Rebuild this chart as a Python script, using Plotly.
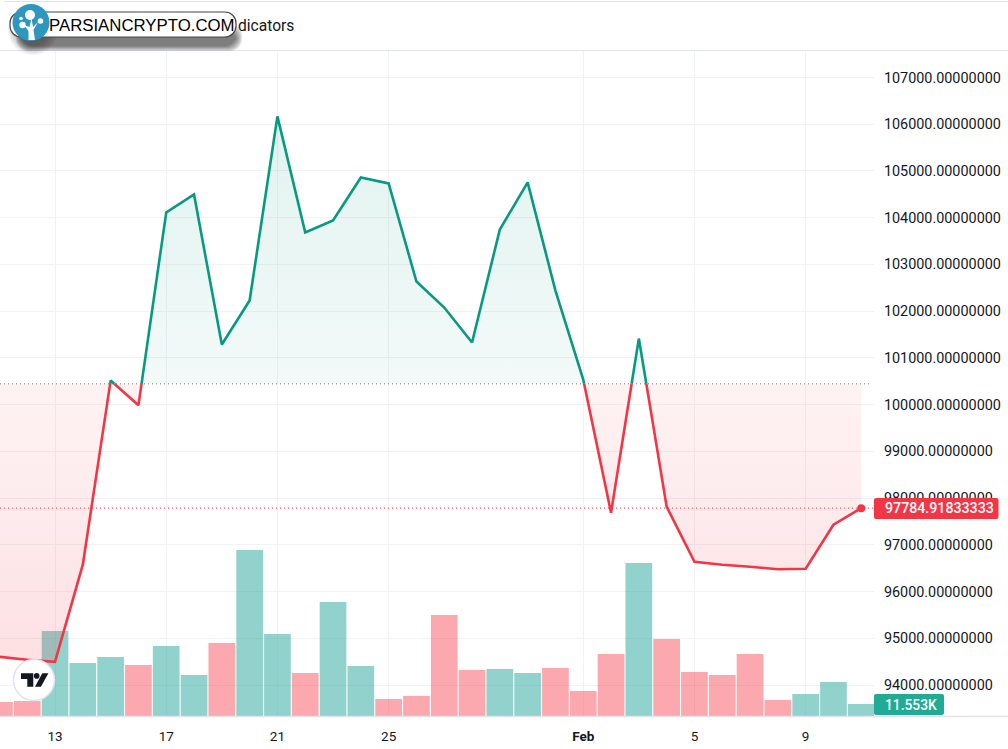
import numpy as np
import pandas as pd
import plotly.graph_objects as go

# ---- data ----
DATES = list(pd.date_range("2025-01-11", "2025-02-11").strftime("%Y-%m-%d"))
PRICE = [94604, 94540, 94497, 96574, 100514, 99985, 104111, 104497, 101285, 102227,
         106167, 103683, 103940, 104861, 104732, 102634, 102077, 101328, 103747, 104754,
         102441, 100535, 97687, 101413, 97816, 96638, 96574, 96531, 96478, 96488,
         97430, 97784.91833333]
VOLUME = [13.5, 14.4, 81.8, 51.0, 56.8, 49.1, 67.4, 39.5, 70.3, 159.8,
          78.9, 41.4, 109.7, 48.1, 16.4, 19.3, 97.2, 44.3, 45.2, 41.4,
          46.2, 24.1, 59.7, 147.3, 74.1, 42.4, 39.5, 59.7, 15.4, 21.2,
          32.7, 11.553]
VOL_UP = [0, 0, 1, 1, 1, 0, 1, 1, 0, 1, 1, 0, 1, 1, 0, 0, 0, 0, 1, 1,
          0, 0, 0, 1, 0, 0, 0, 0, 0, 1, 1, 1]
BASELINE = 100445
LAST_PRICE = 97784.91833333
PRICE_TICKS = list(range(94000, 108000, 1000))
DATE_TICKS = ["2025-01-13", "2025-01-17", "2025-01-21", "2025-01-25",
              "2025-02-01", "2025-02-05", "2025-02-09"]
DATE_LABELS = ["13", "17", "21", "25", "<b>Feb</b>", "5", "9"]

RED = "#f23645"
GREEN = "#089981"
VOL_GREEN = "#92d2cc"
VOL_RED = "#fba8af"
TEXT = "#131722"
GRID = "#f1f2f4"
EDGE = "#e0e3eb"
FONT = "Roboto"

W, H = 1008, 749
LEFT, RIGHT, TOP, BOTTOM = 0, 874, 50, 716


def px(x):
    return (x - LEFT) / (RIGHT - LEFT)


def py(y):
    return (BOTTOM - y) / (BOTTOM - TOP)


def pill(x0, y0, x1, y1, r):
    """ rounded box path in paper coordinates """
    k = r * 0.45
    pts = [
        f"M {px(x0 + r)} {py(y0)}", f"L {px(x1 - r)} {py(y0)}",
        f"C {px(x1 - k)} {py(y0)} {px(x1)} {py(y0 + k)} {px(x1)} {py(y0 + r)}",
        f"L {px(x1)} {py(y1 - r)}",
        f"C {px(x1)} {py(y1 - k)} {px(x1 - k)} {py(y1)} {px(x1 - r)} {py(y1)}",
        f"L {px(x0 + r)} {py(y1)}",
        f"C {px(x0 + k)} {py(y1)} {px(x0)} {py(y1 - k)} {px(x0)} {py(y1 - r)}",
        f"L {px(x0)} {py(y0 + r)}",
        f"C {px(x0)} {py(y0 + k)} {px(x0 + k)} {py(y0)} {px(x0 + r)} {py(y0)}",
        "Z",
    ]
    return " ".join(pts)


def poly(points):
    return "M " + " L ".join(f"{px(x)} {py(y)}" for x, y in points) + " Z"


def box(path, fill, line=None, width=0):
    return dict(type="path", path=path, xref="paper", yref="paper", layer="above",
                fillcolor=fill, line=dict(color=line or "rgba(0,0,0,0)", width=width))


def dot(cx, cy, r, fill, line=None, width=0):
    return dict(type="circle", xref="paper", yref="paper", layer="above",
                x0=px(cx - r), x1=px(cx + r), y0=py(cy + r), y1=py(cy - r),
                fillcolor=fill, line=dict(color=line or "rgba(0,0,0,0)", width=width))


def split_at_baseline(dates, values, base):
    """ add the points where the line crosses the baseline """
    t = pd.to_datetime(dates).astype("datetime64[ns]").astype("int64").to_numpy(dtype=float)
    v = np.array(values, dtype=float)
    out_t, out_v = [t[0]], [v[0]]
    for i in range(1, len(t)):
        if (v[i - 1] - base) * (v[i] - base) < 0:
            f = (base - v[i - 1]) / (v[i] - v[i - 1])
            out_t.append(t[i - 1] + f * (t[i] - t[i - 1]))
            out_v.append(base)
        out_t.append(t[i])
        out_v.append(v[i])
    xs = pd.to_datetime(np.array(out_t).astype("int64")).strftime("%Y-%m-%d %H:%M:%S").tolist()
    return xs, np.array(out_v)


xs, ys = split_at_baseline(DATES, PRICE, BASELINE)
base_y = [BASELINE] * len(xs)

fig = go.Figure()

# volume goes underneath, on its own hidden axis
fig.add_trace(go.Bar(x=DATES, y=VOLUME, yaxis="y",
                     marker=dict(color=["#26a69a" if u else "#f7525f" for u in VOL_UP],
                                 line=dict(width=0), opacity=0.5)))

# baseline fills
fig.add_trace(go.Scatter(x=xs, y=base_y, yaxis="y2", mode="lines", line=dict(width=0)))
fig.add_trace(go.Scatter(x=xs, y=np.maximum(ys, BASELINE), yaxis="y2", mode="lines", line=dict(width=0),
                         fill="tonexty",
                         fillgradient=dict(type="vertical", start=106200, stop=BASELINE,
                                           colorscale=[[0, "rgba(8,153,129,0.12)"], [1, "rgba(8,153,129,0.05)"]])))
fig.add_trace(go.Scatter(x=xs, y=base_y, yaxis="y2", mode="lines", line=dict(width=0)))
fig.add_trace(go.Scatter(x=xs, y=np.minimum(ys, BASELINE), yaxis="y2", mode="lines", line=dict(width=0),
                         fill="tonexty",
                         fillgradient=dict(type="vertical", start=BASELINE, stop=94500,
                                           colorscale=[[0, "rgba(242,54,69,0.06)"], [1, "rgba(242,54,69,0.15)"]])))

# price line, green above the baseline and red below
fig.add_trace(go.Scatter(x=xs, y=np.where(ys >= BASELINE, ys, np.nan), yaxis="y2", mode="lines",
                         line=dict(color=GREEN, width=2.6, simplify=False)))
fig.add_trace(go.Scatter(x=xs, y=np.where(ys <= BASELINE, ys, np.nan), yaxis="y2", mode="lines",
                         line=dict(color=RED, width=2.6, simplify=False)))
fig.add_trace(go.Scatter(x=DATES[-1:], y=PRICE[-1:], yaxis="y2", mode="markers",
                         marker=dict(color=RED, size=8)))

# header rules, dotted levels
shapes = [
    dict(type="line", xref="paper", yref="y2", x0=0, x1=px(870), y0=BASELINE, y1=BASELINE,
         layer="above", line=dict(color="#8a6f74", width=1, dash="1px,3px")),
    dict(type="line", xref="paper", yref="y2", x0=0, x1=1, y0=LAST_PRICE, y1=LAST_PRICE,
         layer="above", line=dict(color=RED, width=1, dash="1px,3px")),
    dict(type="line", xref="paper", yref="paper", x0=0, x1=px(W), y0=py(50.5), y1=py(50.5),
         line=dict(color=EDGE, width=1), layer="above"),
    dict(type="line", xref="paper", yref="paper", x0=px(4), x1=px(W), y0=py(1.5), y1=py(1.5),
         line=dict(color=EDGE, width=1), layer="above"),
    dict(type="line", xref="paper", yref="paper", x0=0, x1=px(W), y0=py(716.5), y1=py(716.5),
         line=dict(color=EDGE, width=1.5), layer="above"),
    # last value tags
    box(pill(874, 498, 998.5, 519, 2), RED),
    box(pill(874, 694, 944, 715, 2), "#22ab94"),
]

# TradingView badge
shapes += [
    dot(34, 680, 20.5, "#ffffff", EDGE, 1.5),
    box(poly([(21, 673.3), (33.3, 673.3), (33.3, 686.7), (27.3, 686.7), (27.3, 679), (21, 679)]), TEXT),
    dot(36.7, 675.9, 2.8, TEXT),
    box(poly([(42.3, 673.3), (48.4, 673.3), (40.9, 686.7), (35, 686.7)]), TEXT),
]

# watermark: soft shadow, pill, round icon
for g in range(7):
    shapes.append(box(pill(16 + g, 24 + g, 242 - g, 51 - g * 0.8, 12), "rgba(40,40,40,0.12)"))
    shapes.append(dot(33, 30, 25 - g * 1.6, "rgba(40,40,40,0.06)"))
shapes += [
    box(pill(10, 12, 236, 37, 11), "#ffffff", "#45474d", 1.2),
    dot(31, 22.5, 18.5, "#2e97bf"),
    box(poly([(28.5, 40), (35, 40), (33.5, 30), (38, 22), (33, 27), (31.5, 18),
              (29.5, 27), (24, 25), (28.5, 31)]), "#ffffff"),
    dot(30, 15, 5, "#ffffff"),
    dot(22.5, 25, 3.2, "#ffffff"),
    dot(40.5, 21, 2.8, "#ffffff"),
    dot(21, 18.5, 1.8, "#ffffff"),
]

annotations = [
    dict(text="dicators", xref="paper", yref="paper", x=px(236), y=py(26), xanchor="left", yanchor="middle",
         showarrow=False, font=dict(family=FONT, size=15.6, color=TEXT)),
    dict(text="PARSIANCRYPTO.COM", xref="paper", yref="paper", x=px(47), y=py(25.5), xanchor="left", yanchor="middle",
         showarrow=False, font=dict(family="Liberation Sans", size=16.8, color="#000000")),
    dict(text=f"{LAST_PRICE:.8f}", xref="paper", yref="y2", x=px(883), y=LAST_PRICE, xanchor="left", yanchor="middle",
         showarrow=False, font=dict(family=FONT, size=14.2, color="#ffffff", weight=500)),
    dict(text=f"{VOLUME[-1]:.3f}K", xref="paper", yref="paper", x=px(883), y=py(704.5), xanchor="left", yanchor="middle",
         showarrow=False, font=dict(family=FONT, size=13.8, color="#ffffff", weight=500)),
]

fig.update_layout(
    width=W, height=H, margin=dict(l=LEFT, r=W - RIGHT, t=TOP, b=H - BOTTOM),
    paper_bgcolor="#ffffff", plot_bgcolor="#ffffff",
    showlegend=False, hovermode=False, bargap=0.04,
    shapes=shapes, annotations=annotations,
    xaxis=dict(type="date", range=["2025-01-11 00:30", "2025-02-11 11:00"],
               tickvals=DATE_TICKS, ticktext=DATE_LABELS, tickangle=0,
               showgrid=True, gridcolor=GRID, gridwidth=1, zeroline=False, showline=False,
               ticks="outside", ticklen=8, tickcolor="rgba(0,0,0,0)",
               tickfont=dict(family=FONT, size=13.5, color=TEXT)),
    yaxis=dict(range=[0, 641], visible=False, showgrid=False, zeroline=False),
    yaxis2=dict(range=[93337, 107588], overlaying="y", side="right", anchor="x",
                tickvals=PRICE_TICKS, tickformat=".8f",
                showgrid=True, gridcolor=GRID, gridwidth=1, zeroline=False, showline=False,
                ticks="outside", ticklen=6, tickcolor="rgba(0,0,0,0)",
                tickfont=dict(family=FONT, size=14.4, color=TEXT)),
)

fig.write_html("out.html", config={"displayModeBar": False},
               post_script="document.body.style.margin='0';document.body.style.overflow='hidden';")
